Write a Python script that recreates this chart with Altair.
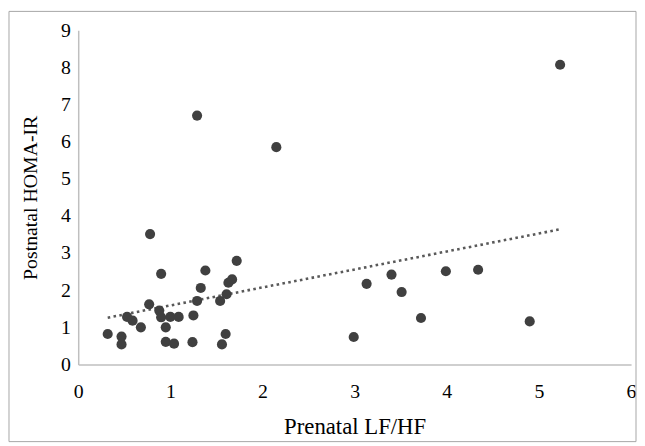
import altair as alt
import pandas as pd

lf_hf = [0.32, 0.47, 0.47, 0.53, 0.59, 0.68, 0.77, 0.78, 0.88, 0.90,
         0.90, 0.95, 0.95, 1.00, 1.04, 1.09, 1.24, 1.25, 1.29, 1.29,
         1.33, 1.38, 1.54, 1.56, 1.60, 1.61, 1.63, 1.67, 1.72, 2.15,
         2.99, 3.13, 3.40, 3.51, 3.72, 3.99, 4.34, 4.90, 5.23]
homa_ir = [0.82, 0.75, 0.54, 1.28, 1.18, 1.00, 1.62, 3.51, 1.45, 1.27,
           2.44, 1.00, 0.61, 1.28, 0.56, 1.28, 0.60, 1.32, 1.71, 6.70,
           2.06, 2.53, 1.71, 0.54, 0.82, 1.89, 2.20, 2.29, 2.79, 5.85,
           0.74, 2.17, 2.42, 1.95, 1.25, 2.51, 2.55, 1.16, 8.07]
x_ticks = [0, 1, 2, 3, 4, 5, 6]
y_ticks = [0, 1, 2, 3, 4, 5, 6, 7, 8, 9]

df = pd.DataFrame({"x": lf_hf, "y": homa_ir})

FONT = "Liberation Serif"

x_enc = alt.X("x:Q", scale=alt.Scale(domain=[0, 6], nice=False, zero=True),
              axis=alt.Axis(values=x_ticks, title="Prenatal LF/HF", grid=False,
                            ticks=False, domainColor="#bfbfbf", domainWidth=1.5,
                            labelPadding=17, titlePadding=15, format="d",
                            titleFontSize=23,
                            labelFlush=False, labelOverlap=False))
y_enc = alt.Y("y:Q", scale=alt.Scale(domain=[0, 9], nice=False),
              axis=alt.Axis(values=y_ticks, title="Postnatal HOMA-IR", grid=False,
                            ticks=False, domainColor="#bfbfbf", domainWidth=1.5,
                            labelPadding=8, titlePadding=20, format="d",
                            labelFlush=False, labelOverlap=False))

border = alt.Chart(pd.DataFrame({"k": [0]})).mark_rect(
    fill=None, stroke="#a6a6a6", strokeWidth=1
).encode(x=alt.value(-70), x2=alt.value(564), y=alt.value(-19), y2=alt.value(416))

base = alt.Chart(df).encode(x=x_enc, y=y_enc)

points = base.mark_circle(size=105, color="#404040", opacity=1)

trend = base.transform_regression("x", "y").mark_line(
    color="#595959", strokeWidth=2.6, strokeDash=[2.6, 3.4]
)

chart = alt.layer(border, trend, points).properties(
    width=559, height=338,
    padding={"left": 71, "top": 20, "right": 6, "bottom": 80},
    autosize=alt.AutoSizeParams(type="none"),
).configure_view(stroke=None).configure_axis(
    labelFont=FONT, titleFont=FONT, labelFontSize=20, titleFontSize=20,
    labelColor="#000000", titleColor="#000000", titleFontWeight="normal"
)

chart.save("out.html", embed_options={"renderer": "svg", "actions": False})
